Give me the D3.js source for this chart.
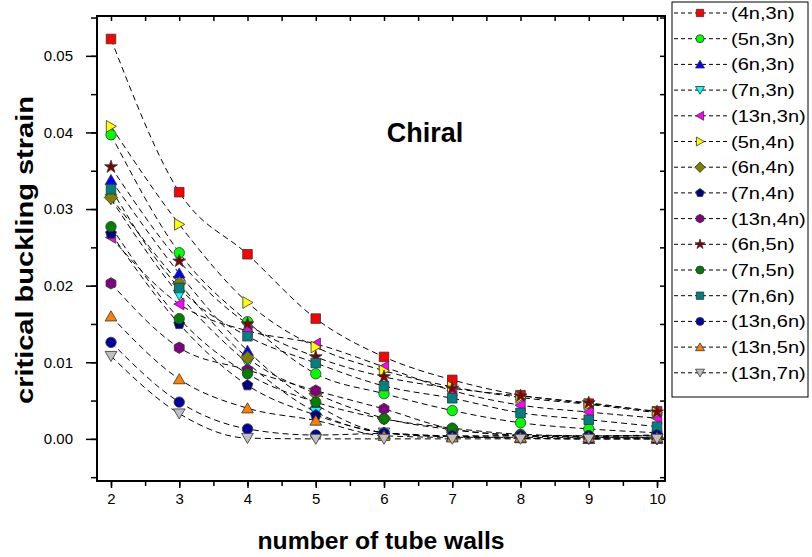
<!DOCTYPE html>
<html lang="en">
<head>
<meta charset="UTF-8">
<title>Chiral critical buckling strain</title>
<script src="https://d3js.org/d3.v7.min.js"></script>
<style>
  body { margin: 0; background: #fff; }
  text { font-family: "Liberation Sans", Arial, sans-serif; }
</style>
</head>
<body>
<svg width="812" height="557"></svg>
<script>
// walls on x axis
const walls = [2, 3, 4, 5, 6, 7, 8, 9, 10];
const xTicks = [2, 3, 4, 5, 6, 7, 8, 9, 10];
const yTicks = [0, 0.01, 0.02, 0.03, 0.04, 0.05];

const names = ['(4n,3n)', '(5n,3n)', '(6n,3n)', '(7n,3n)', '(13n,3n)', '(5n,4n)', '(6n,4n)', '(7n,4n)',
  '(13n,4n)', '(6n,5n)', '(7n,5n)', '(7n,6n)', '(13n,6n)', '(13n,5n)', '(13n,7n)'];
const shapes = ['square', 'circle', 'up', 'down', 'left', 'right', 'diamond', 'pentagon',
  'hexagon', 'star', 'circle', 'square', 'circle', 'up', 'down'];
const colors = ['#ff0000', '#00ff00', '#0000ff', '#00ffff', '#ff00ff', '#ffff00', '#808000', '#000080',
  '#800080', '#800000', '#008000', '#008080', '#0000a0', '#ff8000', '#c0c0c0'];

// critical buckling strain, one array per tube type (walls 2..10)
const s4n3n  = [0.0522, 0.0322, 0.0241, 0.0157, 0.0107, 0.0077, 0.0057, 0.0046, 0.0036];
const s5n3n  = [0.0397, 0.0243, 0.0153, 0.0085, 0.0059, 0.0037, 0.0021, 0.0013, 0.0008];
const s6n3n  = [0.0338, 0.0216, 0.0115, 0.0045, 0.0008, 0.0003, 0.0001, 0.0000, 0.0000];
const s7n3n  = [0.0313, 0.0188, 0.0099, 0.0035, 0.0008, 0.0003, 0.0001, 0.0000, 0.0000];
const s13n3n = [0.0263, 0.0176, 0.0141, 0.0124, 0.0094, 0.0063, 0.0044, 0.0035, 0.0027];
const s5n4n  = [0.0408, 0.0280, 0.0178, 0.0120, 0.0089, 0.0068, 0.0054, 0.0045, 0.0034];
const s6n4n  = [0.0315, 0.0203, 0.0106, 0.0059, 0.0027, 0.0012, 0.0004, 0.0002, 0.0001];
const s7n4n  = [0.0268, 0.0150, 0.0070, 0.0031, 0.0008, 0.0003, 0.0004, 0.0003, 0.0005];
const s13n4n = [0.0203, 0.0119, 0.0090, 0.0063, 0.0039, 0.0013, 0.0005, 0.0003, 0.0002];
const s6n5n  = [0.0355, 0.0232, 0.0150, 0.0107, 0.0081, 0.0066, 0.0056, 0.0047, 0.0035];
const s7n5n  = [0.0277, 0.0157, 0.0085, 0.0048, 0.0026, 0.0014, 0.0006, 0.0004, 0.0004];
const s7n6n  = [0.0326, 0.0197, 0.0134, 0.0099, 0.0069, 0.0053, 0.0034, 0.0025, 0.0016];
const s13n6n = [0.0126, 0.0048, 0.0013, 0.0005, 0.0007, 0.0004, 0.0004, 0.0004, 0.0005];
const s13n5n = [0.0160, 0.0078, 0.0040, 0.0024, 0.0004, 0.0002, 0.0002, 0.0002, 0.0002];
const s13n7n = [0.0108, 0.0033, 0.0001, 0.0000, 0.0000, 0.0000, 0.0000, 0.0000, 0.0000];

const values = [s4n3n, s5n3n, s6n3n, s7n3n, s13n3n, s5n4n, s6n4n, s7n4n,
  s13n4n, s6n5n, s7n5n, s7n6n, s13n6n, s13n5n, s13n7n];

const series = names.map((n, i) => ({
  name: n, shape: shapes[i], color: colors[i],
  points: walls.map((w, j) => ({ x: w, y: values[i][j] }))
}));

const svg = d3.select('svg');
const mLeft = 97, mRight = 665, mTop = 16, mBottom = 481;

const x = d3.scaleLinear().domain([1.795, 10.117]).range([mLeft, mRight]);
const y = d3.scaleLinear().domain([-0.0055, 0.0552]).range([mBottom, mTop]);

// marker path, centered at 0,0
function marker(shape, r) {
  const pts = (n, rot, rr) => d3.range(n).map(k => {
    const a = rot + k * 2 * Math.PI / n;
    return [rr * Math.cos(a), rr * Math.sin(a)];
  });
  const poly = p => 'M' + p.map(q => q.join(',')).join('L') + 'Z';
  const s = r * 0.92;
  switch (shape) {
    case 'square': return poly([[-s, -s], [s, -s], [s, s], [-s, s]]);
    case 'circle': return `M${r},0A${r},${r} 0 1,1 ${-r},0A${r},${r} 0 1,1 ${r},0Z`;
    case 'up': return poly(pts(3, -Math.PI / 2, r * 1.3).map(p => [p[0], p[1] + r * 0.25]));
    case 'down': return poly(pts(3, Math.PI / 2, r * 1.3).map(p => [p[0], p[1] - r * 0.25]));
    case 'left': return poly(pts(3, Math.PI, r * 1.3).map(p => [p[0] + r * 0.25, p[1]]));
    case 'right': return poly(pts(3, 0, r * 1.3).map(p => [p[0] - r * 0.25, p[1]]));
    case 'diamond': return poly([[0, -r * 1.3], [r * 1.3, 0], [0, r * 1.3], [-r * 1.3, 0]]);
    case 'pentagon': return poly(pts(5, -Math.PI / 2, r * 1.1));
    case 'hexagon': return poly(pts(6, -Math.PI / 2, r * 1.1));
    case 'star': {
      const p = d3.range(10).map(k => {
        const a = -Math.PI / 2 + k * Math.PI / 5;
        const rr = k % 2 ? r * 0.5 : r * 1.3;
        return [rr * Math.cos(a), rr * Math.sin(a)];
      });
      return poly(p);
    }
  }
}

// axes
const minorY = d3.range(-0.005, 0.0551, 0.005);
const minorX = d3.range(2, 10.01, 0.5);

svg.append('g')
  .attr('transform', `translate(${mLeft},0)`)
  .call(d3.axisLeft(y).tickValues(minorY).tickSize(6).tickFormat(''));
svg.append('g')
  .attr('transform', `translate(${mLeft},0)`)
  .call(d3.axisLeft(y).tickValues(yTicks).tickSize(11).tickPadding(13).tickFormat(d3.format('.2f')));
svg.append('g')
  .attr('transform', `translate(${mRight},0)`)
  .call(d3.axisLeft(y).tickValues(minorY).tickSize(5).tickFormat(''));

svg.append('g')
  .attr('transform', `translate(0,${mBottom})`)
  .call(d3.axisBottom(x).tickValues(minorX).tickSize(5).tickFormat(''));
svg.append('g')
  .attr('transform', `translate(0,${mBottom})`)
  .call(d3.axisBottom(x).tickValues(xTicks).tickSize(7).tickPadding(5).tickFormat(d3.format('d')));
svg.append('g')
  .attr('transform', `translate(0,${mTop})`)
  .call(d3.axisBottom(x).tickValues(minorX).tickSize(5).tickFormat(''));

svg.selectAll('.domain').remove();
svg.selectAll('.tick line').attr('stroke', '#000').attr('stroke-width', 1.5);
svg.selectAll('.tick text').attr('font-size', 15).attr('fill', '#000');

svg.append('rect')
  .attr('x', mLeft).attr('y', mTop)
  .attr('width', mRight - mLeft).attr('height', mBottom - mTop)
  .attr('fill', 'none').attr('stroke', '#000').attr('stroke-width', 2);

// curves
const line = d3.line().x(d => x(d.x)).y(d => y(d.y)).curve(d3.curveMonotoneX);

svg.append('g').selectAll('path')
  .data(series)
  .join('path')
  .attr('d', d => line(d.points))
  .attr('fill', 'none')
  .attr('stroke', '#000')
  .attr('stroke-width', 1)
  .attr('stroke-dasharray', '6,4');

// markers
series.forEach(s => {
  svg.append('g').selectAll('path')
    .data(s.points)
    .join('path')
    .attr('transform', d => `translate(${x(d.x)},${y(d.y)})`)
    .attr('d', marker(s.shape, 5.2))
    .attr('fill', s.color)
    .attr('stroke', '#333')
    .attr('stroke-width', 0.8);
});

// labels
svg.append('text')
  .attr('x', 425).attr('y', 142)
  .attr('text-anchor', 'middle')
  .attr('font-size', 27).attr('font-weight', 'bold')
  .text('Chiral');

svg.append('text')
  .attr('transform', 'translate(33,250) rotate(-90)')
  .attr('text-anchor', 'middle')
  .attr('font-size', 23).attr('font-weight', 'bold')
  .attr('textLength', 308).attr('lengthAdjust', 'spacingAndGlyphs')
  .text('critical buckling strain');

svg.append('text')
  .attr('x', 381).attr('y', 549)
  .attr('text-anchor', 'middle')
  .attr('font-size', 23).attr('font-weight', 'bold')
  .attr('textLength', 247).attr('lengthAdjust', 'spacingAndGlyphs')
  .text('number of tube walls');

// legend
const lg = svg.append('g');
lg.append('rect')
  .attr('x', 672).attr('y', 2).attr('width', 136).attr('height', 395)
  .attr('fill', '#fff').attr('stroke', '#000').attr('stroke-width', 1);

const row = lg.selectAll('g.row')
  .data(series)
  .join('g')
  .attr('class', 'row')
  .attr('transform', (d, i) => `translate(0,${13 + i * 25.7})`);
row.append('line')
  .attr('x1', 674).attr('x2', 727)
  .attr('stroke', '#000').attr('stroke-width', 1).attr('stroke-dasharray', '4,3');
row.append('path')
  .attr('transform', 'translate(700,0)')
  .attr('d', d => marker(d.shape, 4))
  .attr('fill', d => d.color)
  .attr('stroke', '#333').attr('stroke-width', 0.8);
row.append('text')
  .attr('x', 731).attr('y', 6)
  .attr('font-size', 17)
  .text(d => d.name)
  .each(function () {
    const w = this.getComputedTextLength();
    d3.select(this).attr('textLength', w * 1.18).attr('lengthAdjust', 'spacingAndGlyphs');
  });
</script>
</body>
</html>
